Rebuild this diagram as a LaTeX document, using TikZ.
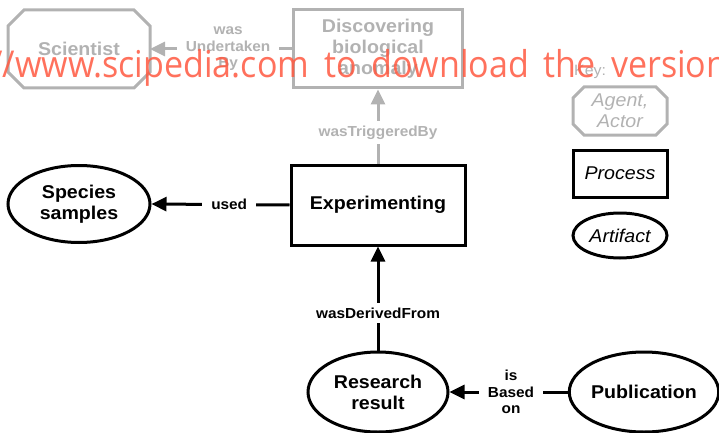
\documentclass[tikz,border=0pt]{standalone}
\usepackage{fontspec}
\setmainfont{Liberation Sans}[FakeStretch=1.06]
\newfontfamily\markfont{Open Sans}[FakeStretch=0.92, WordSpace=1.7]
\usetikzlibrary{shapes.geometric,arrows.meta}
\definecolor{agentgray}{RGB}{178,178,178}
\definecolor{markred}{RGB}{255,88,64}

% octagonal outline around a rectangular node: #1 node, #2 corner cut, #3 style
\newcommand\cornercut[3]{%
  \draw[#3] ([xshift=#2]#1.north west) -- ([xshift=-#2]#1.north east)
    -- ([yshift=-#2]#1.north east) -- ([yshift=#2]#1.south east)
    -- ([xshift=-#2]#1.south east) -- ([xshift=#2]#1.south west)
    -- ([yshift=#2]#1.south west) -- ([yshift=-#2]#1.north west) -- cycle;}

\begin{document}
\begin{tikzpicture}[x=1pt,y=-1pt,
  base/.style={font=\fontsize{18.5}{21}\selectfont\bfseries, align=center,
               inner sep=0pt, line width=3pt},
  process/.style={base, draw, rectangle},
  artifact/.style={base, draw, ellipse},
  agent/.style={base, text=agentgray, outer sep=0pt},
  outline/.style={line width=3pt, agentgray},
  conn/.style={line width=3pt, -{Triangle[length=15pt,width=14pt]}},
  lab/.style={font=\fontsize{14.5}{16.5}\selectfont\bfseries, align=center,
              fill=white, inner xsep=9pt, inner ysep=5pt},
  keytxt/.style={font=\fontsize{18.5}{21}\selectfont\itshape, align=center,
                 inner sep=0pt, line width=3pt},
]
\useasboundingbox (0,0) rectangle (719,433);

% agents
\node[agent, minimum width=142pt, minimum height=78pt] (sci) at (79,49) {Scientist};
\cornercut{sci}{16pt}{outline}

% processes
\node[process, draw=agentgray, text=agentgray, minimum width=169pt, minimum height=78pt]
  (disc) at (378,49) {Discovering\\biological\\anomaly};
\node[process, minimum width=174pt, minimum height=80pt] (exp) at (378,205) {Experimenting};

% artifacts
\node[artifact, minimum width=142pt, minimum height=77pt] (spec) at (79,204) {Species\\samples};
\node[artifact, minimum width=140pt, minimum height=80pt] (res) at (378,392) {Research\\result};
\node[artifact, minimum width=142pt, minimum height=80pt] (pub) at (644,392) {Publication};

% relations
\draw[conn, agentgray] (disc.west) -- node[lab, text=agentgray, pos=0.45] {was\\Undertaken\\By} (sci.east);
\draw[conn, agentgray] (exp.north) -- node[lab, text=agentgray, pos=0.42] {wasTriggeredBy} (disc.south);
\draw[conn] (exp.west) -- node[lab, pos=0.437] {used} (spec.east);
\draw[conn] (res.north) -- node[lab, pos=0.36] {wasDerivedFrom} (exp.south);
\draw[conn] (pub.west) -- node[lab, pos=0.48] {is\\Based\\on} (res.east);

% key
\node[anchor=west, inner sep=0pt, text=agentgray, font=\fontsize{15}{15}\selectfont] (keyhd) at (574,72) {Key:};
\node[keytxt, text=agentgray, outer sep=0pt, minimum width=94pt, minimum height=48pt] (kagent) at (620,111) {Agent,\\Actor};
\cornercut{kagent}{11pt}{outline}
\node[keytxt, draw, rectangle, minimum width=94pt, minimum height=47pt] (kproc) at (620,173.5) {Process};
\node[keytxt, draw, ellipse, minimum width=94pt, minimum height=45pt] (kart) at (620,235.5) {Artifact};

% overprinted web address
\begin{scope}
  \clip (0,0) rectangle (719,433);
  \node[anchor=base west, inner sep=0pt, text=markred, opacity=0.85,
        font=\markfont\fontsize{37}{37}\selectfont] (mark) at (-10,78)
        {//www.scipedia.com to download the version};
\end{scope}
\end{tikzpicture}
\end{document}
